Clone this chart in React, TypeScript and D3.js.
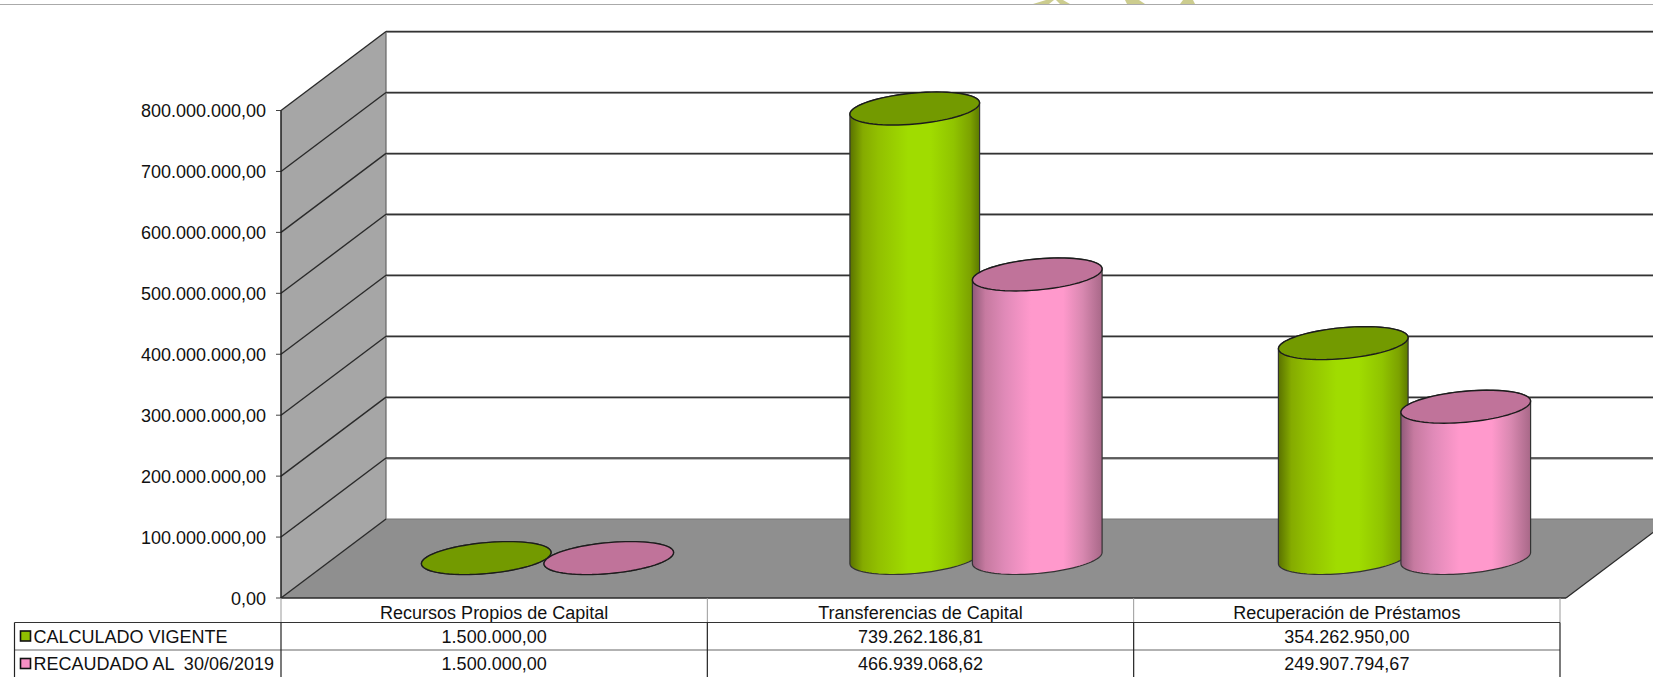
import React from "react";
import * as d3 from "d3";

const categories = ["Recursos Propios de Capital", "Transferencias de Capital", "Recuperación de Préstamos"];
const seriesNames = ["CALCULADO VIGENTE", "RECAUDADO AL  30/06/2019"];
const calculadoVigente = [1500000.0, 739262186.81, 354262950.0];
const recaudado = [1500000.0, 466939068.62, 249907794.67];
const calculadoLabels = ["1.500.000,00", "739.262.186,81", "354.262.950,00"];
const recaudadoLabels = ["1.500.000,00", "466.939.068,62", "249.907.794,67"];
const yTicks = [0, 100, 200, 300, 400, 500, 600, 700, 800].map((d) => d * 1e6);

const W = 1653;
const H = 677;
const DX = 105;
const DY = 79;
const FONT = "'Liberation Sans', Arial, sans-serif";
const TXT = "#111";

const y = d3.scaleLinear().domain([0, 800e6]).range([598, 110.5]);
const x = d3.scaleBand<string>().domain(categories).range([281, 1560]);
const xPlot = d3.scaleBand<string>().domain(categories).range([333.25, 1618.75]);
const seriesX = d3.scalePoint<string>().domain(seriesNames).range([-61.25, 61.25]);
const tickFormat = (v: number) =>
  d3.format(",.2f")(v).replace(/,/g, "#").replace(".", ",").replace(/#/g, ".");

const palette = [
  {
    top: "#739a00",
    key: "#8fbf00",
    stops: [
      [0, "#5a7200"],
      [0.1, "#85ab00"],
      [0.22, "#92c000"],
      [0.45, "#a0dc00"],
      [0.62, "#a0dc00"],
      [0.8, "#90c400"],
      [0.93, "#7ca200"],
      [1, "#5c7a00"],
    ],
  },
  {
    top: "#c0739a",
    key: "#f78fc4",
    stops: [
      [0, "#905a78"],
      [0.1, "#c67aa0"],
      [0.25, "#e08ab8"],
      [0.45, "#ff99cc"],
      [0.7, "#ff99cc"],
      [0.85, "#d888b0"],
      [1, "#a86888"],
    ],
  },
];

const R = 61;
const KX = 22;
const KY = 16.5;
const TANGENT = Math.atan2(KX, R);
const lineGen = d3.line<[number, number]>();

function ell(cx: number, cy: number, t: number): [number, number] {
  return [cx + R * Math.cos(t) + KX * Math.sin(t), cy - KY * Math.sin(t)];
}
function ellipsePath(cx: number, cy: number) {
  return lineGen(d3.range(0, 73).map((i) => ell(cx, cy, (i / 72) * 2 * Math.PI)))! + "Z";
}
function bodyPath(cx: number, yBase: number, yTop: number) {
  const lower = d3.range(0, 49).map((i) => ell(cx, yBase, TANGENT + Math.PI + (i / 48) * Math.PI));
  const upper = d3.range(0, 49).map((i) => ell(cx, yTop, TANGENT + (i / 48) * Math.PI));
  return lineGen([...lower, ...upper])! + "Z";
}

function Cylinder({ cx, value, s }: { cx: number; value: number; s: number }) {
  const base = y(0) - DY / 2 - 0.5;
  const top = y(value) - DY / 2 + 0.5;
  return (
    <g>
      <path d={bodyPath(cx, base, top)} fill={`url(#cyl${s})`} stroke="#333" strokeWidth={1.2} />
      <path d={ellipsePath(cx, top)} fill={palette[s].top} stroke="#1c1c1c" strokeWidth={1.4} />
    </g>
  );
}

export default function App() {
  const frontL = x.range()[0];
  const floorR = 1566;
  const series = [calculadoVigente, recaudado];
  const labels = [calculadoLabels, recaudadoLabels];
  const rowY = [622.5, 650, 677.5];
  const colX = [...categories.map((c) => x(c)!), x.range()[1]];
  return (
    <svg
      width={W}
      height={H}
      viewBox={`0 0 ${W} ${H}`}
      style={{ position: "absolute", left: 0, top: 0, background: "#fff", fontFamily: FONT }}
    >
      <defs>
        {palette.map((p, i) => (
          <linearGradient key={i} id={`cyl${i}`} x1="0" x2="1" y1="0" y2="0">
            {p.stops.map(([o, c]) => (
              <stop key={o as number} offset={o as number} stopColor={c as string} />
            ))}
          </linearGradient>
        ))}
      </defs>

      {/* page header rule and the clipped logo */}
      <path d="M1033,4 L1046,0 L1054,0 L1049,4Z M1060,4 L1056,0 L1063,0 L1070,4Z M1127,4 L1125,0 L1139,0 L1145,4Z M1180,4 L1183,0 L1193,0 L1195,4Z" fill="#cccc8e" />
      <line x1={0} x2={W} y1={4.5} y2={4.5} stroke="#aaaaaa" strokeWidth={1.2} />

      {/* left wall and floor */}
      <path
        d={`M${frontL},${y(0)} L${frontL},${y(800e6)} L${frontL + DX},${y(800e6) - DY} L${frontL + DX},${y(0) - DY}Z`}
        fill="#a6a6a6"
      />
      <path
        d={`M${frontL},${y(0)} L${floorR},${y(0)} L${floorR + DX},${y(0) - DY} L${frontL + DX},${y(0) - DY}Z`}
        fill="#8f8f8f"
      />
      <line x1={frontL + DX} x2={frontL + DX} y1={y(800e6) - DY} y2={y(0) - DY} stroke="#666" strokeWidth={1.2} />
      <line x1={frontL + DX} x2={W} y1={y(0) - DY} y2={y(0) - DY} stroke="#777" strokeWidth={1} />

      {/* gridlines */}
      {yTicks.map((t) => (
        <g key={t}>
          {t > 0 && (
            <>
              <line x1={frontL + DX} x2={W} y1={y(t) - DY + 1} y2={y(t) - DY + 1} stroke="#aaa" strokeWidth={1.2} />
              <line x1={frontL + DX} x2={W} y1={y(t) - DY} y2={y(t) - DY} stroke="#333" strokeWidth={1.5} />
            </>
          )}
          <line x1={frontL} x2={frontL + DX} y1={y(t)} y2={y(t) - DY} stroke="#2a2a2a" strokeWidth={1.4} />
          <line x1={frontL - 5} x2={frontL} y1={y(t)} y2={y(t)} stroke="#444" strokeWidth={1} />
          <text x={266} y={y(t) + 6.5} textAnchor="end" fontSize={18} fill={TXT}>
            {tickFormat(t)}
          </text>
        </g>
      ))}

      {/* floor edges */}
      <line x1={frontL} x2={frontL} y1={y(800e6)} y2={y(0)} stroke="#1c1c1c" strokeWidth={1.5} />
      <line x1={frontL} x2={floorR} y1={y(0)} y2={y(0)} stroke="#2a2a2a" strokeWidth={1.5} />
      <line x1={floorR} x2={floorR + DX} y1={y(0)} y2={y(0) - DY} stroke="#2a2a2a" strokeWidth={1.3} />

      {/* cylinders */}
      {categories.map((c, ci) =>
        seriesNames.map((n, si) => (
          <Cylinder
            key={c + n}
            cx={xPlot(c)! + xPlot.bandwidth() / 2 + seriesX(n)!}
            value={series[si][ci]}
            s={si}
          />
        ))
      )}

      {/* data table */}
      {colX.map((cx) => (
        <line key={cx} x1={cx} x2={cx} y1={y(0)} y2={rowY[0]} stroke="#999" strokeWidth={1} />
      ))}
      {categories.map((c) => (
        <text key={c} x={x(c)! + x.bandwidth() / 2} y={619} textAnchor="middle" fontSize={18} fill={TXT}>
          {c}
        </text>
      ))}
      <line x1={14.5} x2={1560} y1={rowY[0]} y2={rowY[0]} stroke="#333" strokeWidth={1.1} />
      <line x1={14.5} x2={1560} y1={rowY[1]} y2={rowY[1]} stroke="#999" strokeWidth={1.4} />
      {[14.5, ...colX].map((cx) => (
        <line key={cx} x1={cx} x2={cx} y1={rowY[0]} y2={H} stroke="#222" strokeWidth={1.2} />
      ))}
      {seriesNames.map((n, si) => (
        <g key={n}>
          <rect x={20.5} y={rowY[si] + 8.5} width={10} height={10} fill={palette[si].key} stroke="#111" strokeWidth={1.6} />
          <text x={33.5} y={rowY[si] + 20} fontSize={18} fill={TXT} xmlSpace="preserve">
            {n}
          </text>
          {labels[si].map((l, ci) => (
            <text key={ci} x={x(categories[ci])! + x.bandwidth() / 2} y={rowY[si] + 20} textAnchor="middle" fontSize={18} fill={TXT}>
              {l}
            </text>
          ))}
        </g>
      ))}
    </svg>
  );
}
